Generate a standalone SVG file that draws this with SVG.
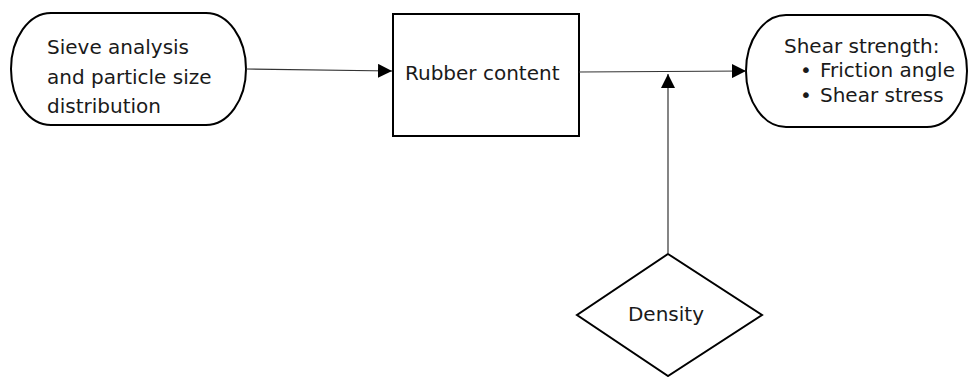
<svg xmlns="http://www.w3.org/2000/svg" width="970" height="377" viewBox="0 0 970 377">
  <style>
    .shape { fill: #ffffff; stroke: #000000; stroke-width: 2; }
    .label { font-family: "DejaVu Sans", Verdana, sans-serif; font-size: 20px; fill: #1a1a1a; }
    .link { fill: none; stroke: #333333; stroke-width: 1.2; }
  </style>
  <defs>
    <marker id="arrow" markerWidth="14" markerHeight="14" refX="14" refY="7" orient="auto" markerUnits="userSpaceOnUse">
      <path d="M0,0 L14,7 L0,14 Z" fill="#000000"/>
    </marker>
  </defs>
  <rect width="970" height="377" fill="#ffffff"/>

  <g id="sieve-analysis">
    <rect class="shape" x="11" y="13" width="235" height="112" rx="40" ry="56"/>
    <text class="label" x="47" y="54">Sieve analysis</text>
    <text class="label" x="47" y="84">and particle size</text>
    <text class="label" x="47" y="113">distribution</text>
  </g>

  <g id="rubber-content">
    <rect class="shape" x="393" y="14" width="186" height="122"/>
    <text class="label" x="405" y="80">Rubber content</text>
  </g>

  <g id="shear-strength">
    <rect class="shape" x="746" y="15" width="221" height="112" rx="40" ry="56"/>
    <text class="label" x="784" y="53">Shear strength:</text>
    <text class="label" x="800" y="77">•</text>
    <text class="label" x="820" y="77">Friction angle</text>
    <text class="label" x="800" y="102">•</text>
    <text class="label" x="820" y="102">Shear stress</text>
  </g>

  <g id="density">
    <polygon class="shape" points="668,254 762,315 668,376 577,315"/>
    <text class="label" x="666" y="321" text-anchor="middle">Density</text>
  </g>

  <g id="connectors">
    <line class="link" x1="246" y1="69" x2="392" y2="71" marker-end="url(#arrow)"/>
    <line class="link" x1="579" y1="72" x2="746" y2="71" marker-end="url(#arrow)"/>
    <line class="link" x1="668" y1="254" x2="668" y2="74" marker-end="url(#arrow)"/>
  </g>
</svg>
